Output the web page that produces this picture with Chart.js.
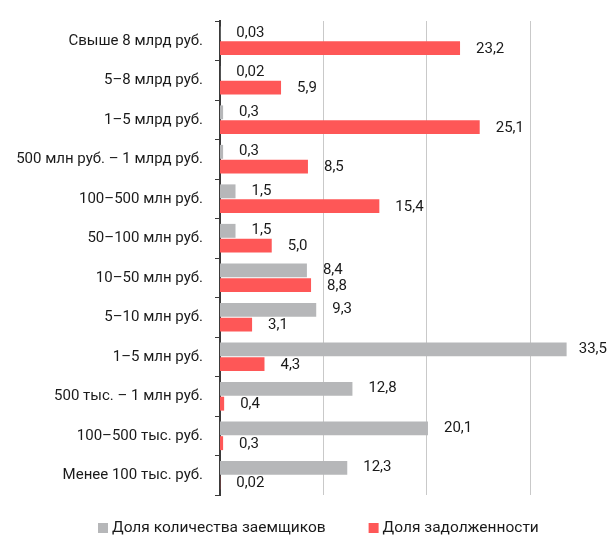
<!DOCTYPE html>
<html>
<head>
<meta charset="utf-8">
<title>Структура кредитов по размеру задолженности</title>
<script src="https://cdn.jsdelivr.net/npm/chart.js@4.4.1/dist/chart.umd.min.js"></script>
<style>
  html, body { margin: 0; padding: 0; background: #ffffff; }
  canvas { display: block; }
</style>
</head>
<body>
<canvas id="chart" width="608" height="538"></canvas>
<script>
// Loan size groups, top to bottom
const categories = [
  'Свыше 8 млрд руб.',
  '5–8 млрд руб.',
  '1–5 млрд руб.',
  '500 млн руб. – 1 млрд руб.',
  '100–500 млн руб.',
  '50–100 млн руб.',
  '10–50 млн руб.',
  '5–10 млн руб.',
  '1–5 млн руб.',
  '500 тыс. – 1 млн руб.',
  '100–500 тыс. руб.',
  'Менее 100 тыс. руб.'
];

// Share of borrowers, %
const borrowersShare = [0.03, 0.02, 0.3, 0.3, 1.5, 1.5, 8.4, 9.3, 33.5, 12.8, 20.1, 12.3];

// Share of debt, %
const debtShare = [23.2, 5.9, 25.1, 8.5, 15.4, 5.0, 8.8, 3.1, 4.3, 0.4, 0.3, 0.02];

const seriesNames = ['Доля количества заемщиков', 'Доля задолженности'];

// Vertical reference lines on the value axis
const gridValues = [10, 20, 30];

const GRAY = '#b6b7b9';
const RED = '#fe5757';
const TEXT = '#1a1a1a';
const FONT = 'Roboto, "Liberation Sans", Arial, sans-serif';

function formatValue(v) {
  const digits = v < 0.1 ? 2 : 1;
  return v.toFixed(digits).replace('.', ',');
}

// Value labels to the right of each bar
const valueLabels = {
  id: 'valueLabels',
  afterDatasetsDraw(chart) {
    const ctx = chart.ctx;
    ctx.save();
    ctx.font = '15px ' + FONT;
    ctx.fillStyle = TEXT;
    ctx.textAlign = 'left';
    ctx.textBaseline = 'middle';
    chart.data.datasets.forEach((ds, i) => {
      const meta = chart.getDatasetMeta(i);
      meta.data.forEach((bar, j) => {
        const text = formatValue(ds.data[j]);
        const w = ctx.measureText(text).width;
        let x = bar.x + 16;
        x = Math.min(x, chart.width - w - 1);
        ctx.fillText(text, x, bar.y + (i === 0 ? -0.5 : 1));
      });
    });
    ctx.restore();
  }
};

// Legend row under the plot
const bottomLegend = {
  id: 'bottomLegend',
  afterDraw(chart) {
    const ctx = chart.ctx;
    ctx.save();
    ctx.font = '15.5px ' + FONT;
    ctx.textAlign = 'left';
    ctx.textBaseline = 'middle';
    const yMid = 528;
    let x = 98;
    chart.data.datasets.forEach((ds) => {
      ctx.fillStyle = ds.backgroundColor;
      ctx.fillRect(x, yMid - 5, 10, 10);
      x += 14;
      ctx.fillStyle = TEXT;
      ctx.fillText(ds.label, x, yMid);
      x += ctx.measureText(ds.label).width + 43;
    });
    ctx.restore();
  }
};

new Chart(document.getElementById('chart'), {
  type: 'bar',
  data: {
    labels: categories,
    datasets: [
      {
        label: seriesNames[0],
        data: borrowersShare,
        backgroundColor: GRAY,
        categoryPercentage: 0.75,
        barPercentage: 0.94
      },
      {
        label: seriesNames[1],
        data: debtShare,
        backgroundColor: RED,
        categoryPercentage: 0.75,
        barPercentage: 0.94
      }
    ]
  },
  options: {
    indexAxis: 'y',
    responsive: false,
    animation: false,
    devicePixelRatio: 1,
    layout: { padding: { top: 15, right: 0, bottom: 43, left: 0 } },
    plugins: {
      legend: { display: false },
      tooltip: { enabled: false }
    },
    scales: {
      x: {
        min: 0,
        max: 37.5,
        afterBuildTicks(scale) {
          scale.ticks = gridValues.map(v => ({ value: v }));
        },
        afterFit(scale) { scale.height = 0; },
        ticks: { display: false },
        border: { display: false },
        grid: { color: '#c9c9c9', lineWidth: 1, drawTicks: false }
      },
      y: {
        afterFit(scale) { scale.width = 220; },
        ticks: {
          color: TEXT,
          font: { family: FONT, size: 15 },
          padding: 12
        },
        border: { display: true, color: '#3a3a3a', width: 2 },
        grid: {
          drawOnChartArea: false,
          drawTicks: true,
          tickLength: 5,
          color: '#3a3a3a',
          lineWidth: 1
        }
      }
    }
  },
  plugins: [valueLabels, bottomLegend]
});
</script>
</body>
</html>
